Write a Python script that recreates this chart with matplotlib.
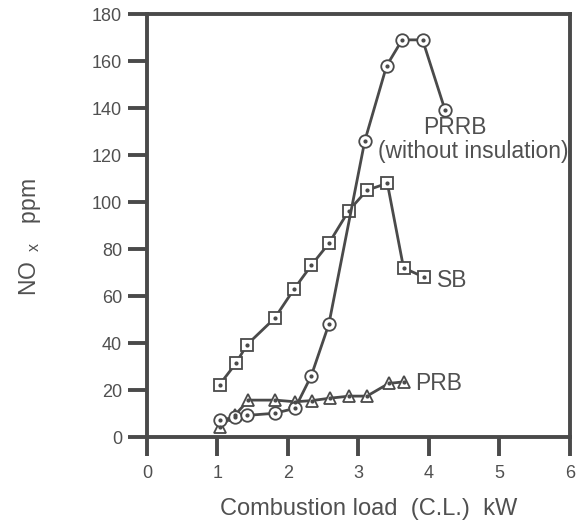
import matplotlib
matplotlib.use("Agg")
import matplotlib.pyplot as plt

plt.rcParams['font.family'] = ['Liberation Sans', 'DejaVu Sans']

# PRRB (without insulation) - circles
prrb_x = [1.03, 1.25, 1.42, 1.81, 2.10, 2.33, 2.58, 3.09, 3.40, 3.62, 3.91, 4.23]
prrb_y = [7.2, 8.4, 9.2, 10.1, 12.2, 26, 48, 126, 158, 169, 169, 139]

# SB - squares
sb_x = [1.03, 1.26, 1.42, 1.81, 2.09, 2.33, 2.58, 2.86, 3.12, 3.41, 3.64, 3.93]
sb_y = [22.3, 31.3, 39.3, 50.5, 63.1, 73, 82.4, 96.2, 105, 108, 72, 68]

# PRB - triangles
prb_x = [1.03, 1.25, 1.44, 1.82, 2.10, 2.34, 2.59, 2.87, 3.12, 3.43, 3.65]
prb_y = [4.4, 9.4, 15.7, 15.7, 15.0, 15.5, 16.5, 17.4, 17.4, 22.8, 23.5]

x_ticks = [0, 1, 2, 3, 4, 5, 6]
y_ticks = [0, 20, 40, 60, 80, 100, 120, 140, 160, 180]

col = '#4a4a4a'
txt = '#505050'

fig = plt.figure(figsize=(5.78, 5.31), dpi=100)
ax = fig.add_axes([0.2543, 0.177, 0.986 - 0.2543, 0.9736 - 0.177])

def series(x, y, marker, ms):
    ax.plot(x, y, color=col, lw=2.0, marker=marker, ms=ms,
            mfc='white', mec=col, mew=1.3, zorder=3)
    ax.plot(x, y, ls='none', marker='o', ms=2.0, mfc=col, mec=col, zorder=4)

series(sb_x, sb_y, 's', 8.5)
series(prb_x, prb_y, '^', 8.5)
series(prrb_x, prrb_y, 'o', 9)

ax.set_xlim(0, 6)
ax.set_ylim(0, 180)
ax.set_xticks(x_ticks)
ax.set_yticks(y_ticks)
for s in ax.spines.values():
    s.set_linewidth(2.8)
    s.set_color(col)
ax.tick_params(direction='out', length=14, width=2.8, color=col,
               labelsize=13, labelcolor=txt, pad=6)
ax.tick_params(axis='y', pad=4)

lab = dict(color=txt, fontsize=16.5)
ax.text(4.37, 131.5, 'PRRB', ha='center', va='center', **lab)
ax.text(4.63, 121.5, '(without insulation)', ha='center', va='center', **lab)
ax.text(4.33, 66.8, 'SB', ha='center', va='center', **lab)
ax.text(3.80, 22.6, 'PRB', ha='left', va='center', **lab)

ax.set_xlabel('Combustion load  (C.L.)  kW', fontsize=17, color=txt, labelpad=12)
ax.xaxis.label.set_x(0.524)
fig.text(0.052, 0.553, r'NO$_{\ \ \mathregular{x}}$   ppm', rotation=90,
         ha='center', va='center', fontsize=16.5, color=txt)

fig.savefig('out.png', dpi=100)
